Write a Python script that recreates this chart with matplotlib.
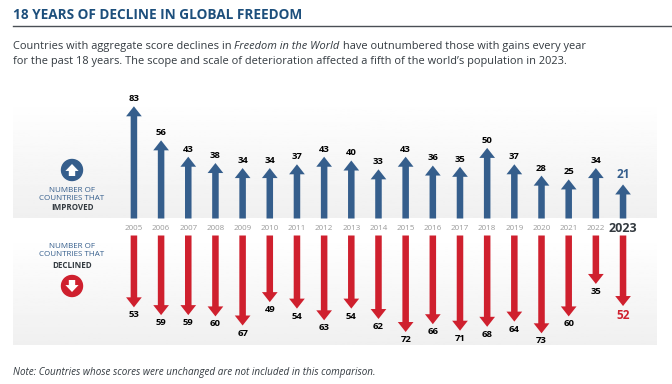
import numpy as np
import matplotlib
matplotlib.use('Agg')
import matplotlib.pyplot as plt
from matplotlib.patches import Circle

plt.rcParams['font.family'] = ['Open Sans', 'DejaVu Sans']

years = list(range(2005, 2024))
improved = [83, 56, 43, 38, 34, 34, 37, 43, 40, 33, 43, 36, 35, 50, 37, 28, 25, 34, 21]
declined = [53, 59, 59, 60, 67, 49, 54, 63, 54, 62, 72, 66, 71, 68, 64, 73, 60, 35, 52]

BLUE = '#355e8c'
RED = '#cf202e'
NAVY = '#1d4f7c'
DARK = '#333a40'

W, H = 672, 384
fig = plt.figure(figsize=(W / 100, H / 100), dpi=100)


# axes placed by pixel box, top and bottom measured from top of the image
def px_axes(left, top, right, bottom):
    return fig.add_axes([left / W, 1 - bottom / H, (right - left) / W, (bottom - top) / H])


xlim = (2000.55, 2024.25)
grad = np.linspace(1, 0.94, 64).reshape(-1, 1)

# improved panel
ax_up = px_axes(13, 100, 657, 218.5)
ax_up.set_xlim(xlim)
ax_up.set_ylim(-6, 88)
ax_up.imshow(grad, extent=(*xlim, -6, 88), aspect='auto', cmap='gray', vmin=0, vmax=1, origin='upper', zorder=0)
ax_up.axis('off')

# declined panel
ax_dn = px_axes(13, 235.5, 657, 345)
ax_dn.set_xlim(xlim)
ax_dn.set_ylim(82, -2.3)
ax_dn.imshow(grad[::-1], extent=(*xlim, 82, -2.3), aspect='auto', cmap='gray', vmin=0, vmax=1, origin='lower', zorder=0)
ax_dn.axis('off')

arrow_up = dict(width=4.7, headwidth=11.3, headlength=7.2, shrink=0, lw=0, color=BLUE)
arrow_dn = dict(width=4.7, headwidth=11.3, headlength=7.2, shrink=0, lw=0, color=RED)

for yr, up, dn in zip(years, improved, declined):
    last = yr == 2023
    ax_up.annotate('', xy=(yr, up), xytext=(yr, -6), arrowprops=arrow_up, annotation_clip=False)
    ax_dn.annotate('', xy=(yr, dn), xytext=(yr, -2.3), arrowprops=arrow_dn, annotation_clip=False)
    ax_up.annotate(str(up), xy=(yr, up), xytext=(0, 2.2), textcoords='offset points', ha='center', va='bottom',
                   fontsize=8.5 if last else 6.8, fontweight='bold', color=BLUE if last else 'black', annotation_clip=False)
    ax_dn.annotate(str(dn), xy=(yr, dn), xytext=(0, -2.2), textcoords='offset points', ha='center', va='top',
                   fontsize=8.5 if last else 6.8, fontweight='bold', color=RED if last else 'black', annotation_clip=False)

# overlay in pixel coordinates for all the page text
ov = fig.add_axes([0, 0, 1, 1], zorder=5)
ov.set_xlim(0, W)
ov.set_ylim(H, 0)
ov.axis('off')
ov.patch.set_alpha(0)

ov.text(13, 15, '18 YEARS OF DECLINE IN GLOBAL FREEDOM', fontsize=9.8, fontweight='bold', color=NAVY, va='center')
ov.plot([13, 672], [26, 26], color='#4a4f55', lw=1)

# first line is three pieces so the italic title sits on the same baseline
t = ov.text(13, 49, 'Countries with aggregate score declines in ', fontsize=7.95, color=DARK, va='baseline')
t = ov.annotate('Freedom in the World', xy=(1, 49), xycoords=(t, 'data'), va='baseline', fontsize=7.95, color=DARK, style='italic')
ov.annotate(' have outnumbered those with gains every year', xy=(1, 49), xycoords=(t, 'data'), va='baseline', fontsize=7.95, color=DARK)
ov.text(13, 64, 'for the past 18 years. The scope and scale of deterioration affected a fifth of the world\u2019s population in 2023.',
        fontsize=7.95, color=DARK, va='baseline')

ov.text(13, 372, 'Note: Countries whose scores were unchanged are not included in this comparison.',
        fontsize=7.1, style='italic', color=DARK, va='center')

# year labels between the panels
for yr in years:
    xp = 13 + (yr - xlim[0]) / (xlim[1] - xlim[0]) * 644
    if yr == 2023:
        ov.text(xp, 228, str(yr), fontsize=9, fontweight='bold', color=DARK, ha='center', va='center')
    else:
        ov.text(xp, 228, str(yr), fontsize=5.8, color='#9a9a9a', ha='center', va='center')

# left hand key
for y, s, w in [(190, 'NUMBER OF', 'normal'), (199, 'COUNTRIES THAT', 'normal'), (208, 'IMPROVED', 'bold')]:
    ov.text(72, y, s, fontsize=5.8, fontweight=w, color=BLUE if w == 'normal' else DARK, ha='center', va='center')
for y, s, w in [(246, 'NUMBER OF', 'normal'), (255, 'COUNTRIES THAT', 'normal'), (265, 'DECLINED', 'bold')]:
    ov.text(72, y, s, fontsize=5.8, fontweight=w, color=BLUE if w == 'normal' else DARK, ha='center', va='center')

ov.add_patch(Circle((72, 170), 10.5, color=BLUE))
ov.add_patch(Circle((72, 286), 10.5, color=RED))
icon = dict(width=4.6, headwidth=9.5, headlength=5, shrink=0, lw=0, color='white')
ov.annotate('', xy=(72, 164), xytext=(72, 176), arrowprops=icon)
ov.annotate('', xy=(72, 292), xytext=(72, 280), arrowprops=icon)

fig.savefig('out.png', dpi=100)
